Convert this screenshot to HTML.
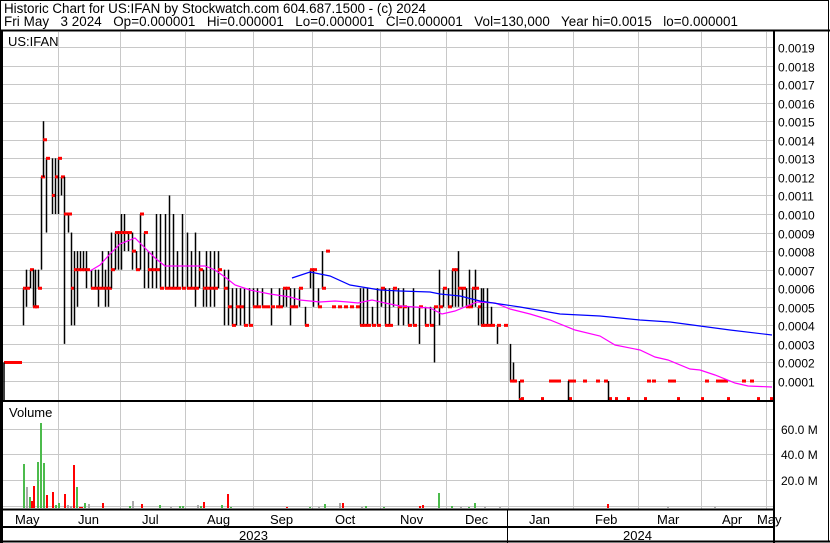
<!DOCTYPE html>
<html><head><meta charset="utf-8"><style>
body{margin:0;background:#fff;width:830px;height:543px;overflow:hidden}
svg{display:block;font-family:"Liberation Sans",Arial,sans-serif}
.pre{white-space:pre}
</style></head><body>
<svg id="s" width="830" height="543" xmlns="http://www.w3.org/2000/svg">
<rect x="0" y="0" width="830" height="543" fill="#fff"/>
<text x="4" y="13" font-size="13.4" textLength="422" lengthAdjust="spacing">Historic Chart for US:IFAN by Stockwatch.com 604.687.1500 - (c) 2024</text>
<text x="4" y="26" font-size="13.4" class="pre" textLength="734" lengthAdjust="spacing">Fri May   3 2024   Op=0.000001   Hi=0.000001   Lo=0.000001   Cl=0.000001   Vol=130,000   Year hi=0.0015   lo=0.000001</text>
<g id="grid" stroke="#c8c8c8" stroke-width="1"></g>
<g id="bars"></g>
<g id="labels" font-size="12"></g>
<text x="8" y="46" font-size="13">US:IFAN</text>
<text x="9" y="417" font-size="13">Volume</text>
<g stroke="#000" fill="none">
<rect x="0.5" y="0.5" width="828" height="541" stroke-width="1"/>
<line x1="0" y1="30.5" x2="830" y2="30.5" stroke-width="2"/>
<line x1="1.5" y1="30" x2="1.5" y2="543" stroke-width="3"/>
<line x1="774" y1="30" x2="774" y2="543" stroke-width="2"/>
<line x1="0" y1="401" x2="774" y2="401" stroke-width="2"/>
<line x1="0" y1="509.5" x2="774" y2="509.5" stroke-width="2"/>
<line x1="0" y1="527" x2="774" y2="527" stroke-width="2"/>
<line x1="507.5" y1="510" x2="507.5" y2="543" stroke-width="1"/>
<line x1="0" y1="541.5" x2="830" y2="541.5" stroke-width="2"/>
</g>
<g font-size="13">
<text x="15" y="524">May</text><text x="78" y="524">Jun</text><text x="142" y="524">Jul</text>
<text x="207" y="524">Aug</text><text x="270" y="524">Sep</text><text x="335" y="524">Oct</text>
<text x="400" y="524">Nov</text><text x="465" y="524">Dec</text><text x="529" y="524">Jan</text>
<text x="595" y="524">Feb</text><text x="657" y="524">Mar</text><text x="722" y="524">Apr</text>
<text x="757" y="524">May</text>
<text x="239" y="540">2023</text><text x="623" y="540">2024</text>
</g>
</svg>
<script>
const NS="http://www.w3.org/2000/svg";
function el(p,t,a){const e=document.createElementNS(NS,t);for(const k in a)e.setAttribute(k,a[k]);p.appendChild(e);return e;}
const g=document.getElementById('grid'),b=document.getElementById('bars'),L=document.getElementById('labels');
const Y=v=>399.6-18.56*v;
const vx=[58,120,185,253,312,380,446,508,573,638,701,766];
vx.forEach(x=>{el(g,'line',{x1:x+.5,y1:32,x2:x+.5,y2:400});el(g,'line',{x1:x+.5,y1:402,x2:x+.5,y2:509});});
for(let v=1;v<=19;v++){const y=Math.round(Y(v))+.5;el(g,'line',{x1:3,y1:y,x2:773,y2:y});
el(L,'text',{x:778,y:y+5}).textContent=(v/10000).toFixed(4);}
[[0,506],[20,480],[40,454],[60,429]].forEach(([v,y])=>{el(g,'line',{x1:3,y1:y+.5,x2:773,y2:y+.5});
if(v)el(L,'text',{x:781,y:y+5}).textContent=v.toFixed(1)+" M";});
const B=[[23,6,4,6],[26,7,5,6],[30,7,6,7],[33,7,5,5],[35,7,5,5],[38,7,6,6],[41,12,7,12],[43,15,12,14],[46,13,9,13],[52,13,10,11],[55,13,10,12],[58,13,10,13],[61,12,11,12],[64,12,3,10],[68,10,9,10],[71,9,4,6],[74,8,4,7],[77,8,5,7],[80,8,7,7],[83,8,7,7],[86,8,6,7],[91,7,6,6],[95,7,6,6],[98,7,5,6],[102,8,6,6],[105,7,5,6],[108,8,5,6],[111,9,6,7],[115,9,7,9],[118,9,7,9],[121,10,7,9],[124,10,8,9],[128,9,8,9],[132,9,7,8],[136,8,7,7],[140,10,7,10],[144,9,6,9],[148,8,6,7],[152,8,6,7],[156,10,6,7],[160,10,6,6],[165,10,6,6],[169,11,6,6],[173,10,6,6],[177,8,6,6],[182,10,6,6],[187,9,6,6],[191,8,6,6],[195,9,5,6],[199,8,6,7],[203,7,5,6],[206,8,5,6],[210,8,5,6],[214,8,5,6],[218,8,6,7],[224,7,4,6],[228,7,4,5],[232,6,4,4],[236,6,4,5],[240,6,4,5],[244,6,4,4],[249,6,4,4],[253,6,5,5],[257,6,5,5],[262,6,5,5],[266,5,5,5],[271,6,4,5],[276,5,5,5],[279,6,5,5],[283,6,5,6],[286,6,5,6],[290,6,4,5],[294,6,5,5],[299,6,5,6],[305,5,4,4],[310,7,6,7],[313,7,5,7],[318,6,5,5],[322,8,6,6],[326,8,8,8],[332,5,5,5],[338,5,5,5],[344,5,5,5],[350,5,5,5],[356,5,5,5],[360,6,4,4],[363,6,4,4],[367,6,4,4],[372,5,4,4],[377,6,4,4],[381,6,5,6],[385,6,4,4],[389,6,4,4],[393,6,5,6],[398,6,4,5],[403,6,4,5],[408,5,4,4],[413,6,4,4],[419,5,3,5],[425,5,4,4],[430,5,4,4],[434,5,2,5],[439,7,4,5],[443,6,5,6],[448,6,5,5],[452,7,5,7],[455,7,5,7],[458,8,5,6],[462,6,5,6],[466,6,5,5],[469,7,5,5],[472,6,5,6],[475,7,5,6],[478,5,4,5],[481,6,4,4],[483,6,4,4],[487,6,4,4],[491,5,4,4],[497,4,3,4],[504,4,4,4],[510,3,1,1],[513,2,1,1],[519,1,0,0]];
function ln(x1,y1,x2,y2,c,w){el(b,'line',{x1,y1,x2,y2,stroke:c,'stroke-width':w||1});}
B.forEach(([x,h,l,c])=>{if(h>l)ln(x+.5,Y(h),x+.5,Y(l),'#000',1.5);el(b,'rect',{x:x,y:Y(c)-1.5,width:4,height:3,fill:'#f00'});});
el(b,'rect',{x:4,y:Y(2)-1.5,width:18,height:3,fill:'#f00'});
ln(4,Y(2),4,400,'#000',1.5);
[512,520,549,553,557,568,572,583,596,604,647,652,668,672,705,716,720,724,742,750].forEach(x=>el(b,'rect',{x:x,y:Y(1)-1.5,width:4,height:3,fill:'#f00'}));
[521,541,569,609,615,627,644,677,701,727,757,770].forEach(x=>el(b,'rect',{x:x,y:Y(0)-2.5,width:3,height:3,fill:'#f00'}));
ln(568.5,Y(1),568.5,400,'#000',1.5);ln(608.5,Y(1),608.5,400,'#000',1.5);
const pink=[[90,271],[100,265],[110,254],[120,244],[130,240],[135,238],[140,243],[150,253],[155,258],[165,266],[175,266],[205,266],[215,270],[225,277],[235,285],[250,290],[270,294],[290,297],[300,300],[320,302],[335,301],[348,302],[358,303],[372,300],[385,303],[400,306],[430,308],[442,314],[455,311],[477,302],[495,303],[510,309],[530,314],[550,320],[575,330],[600,336],[615,345],[640,350],[655,357],[668,360],[690,369],[700,370],[715,375],[735,383],[748,386],[772,387]];
const blue=[[292,278],[310,272],[330,276],[350,285],[380,290],[400,291],[430,292],[440,294],[460,296],[480,301],[520,307],[560,314],[600,316],[620,318],[640,320],[670,322],[700,326],[730,330],[772,335]];
el(b,'polyline',{points:pink.map(p=>p.join(',')).join(' '),fill:'none',stroke:'#f0f','stroke-width':1.2});
el(b,'polyline',{points:blue.map(p=>p.join(',')).join(' '),fill:'none',stroke:'#00f','stroke-width':1.2});
const G='#4cbb4c',R='#f00',Gr='#aaa';
const V=[[23,464,G],[26,487,Gr],[29,497,G],[31,501,R],[33,486,R],[37,462,G],[40,423,G],[43,463,G],[46,495,R],[52,492,R],[55,505,G],[58,503,G],[64,494,R],[67,505,Gr],[70,506,Gr],[73,465,R],[76,487,G],[79,507,R],[81,507,R],[84,503,G],[88,504,Gr],[102,503,R],[129,506,G],[132,501,Gr],[141,504,R],[159,505,G],[170,507,Gr],[179,506,G],[182,506,G],[197,505,Gr],[200,506,G],[203,502,R],[221,505,G],[227,494,R],[230,507,G],[286,507,R],[309,507,G],[318,507,Gr],[324,504,G],[339,503,Gr],[342,503,R],[361,507,Gr],[365,506,G],[383,507,G],[419,506,R],[422,505,R],[438,493,G],[451,506,G],[460,507,Gr],[468,507,G],[474,503,G],[484,507,Gr],[499,507,Gr],[607,504,R],[667,507,Gr],[714,507,Gr]];
V.forEach(([x,t,c])=>el(b,'rect',{x:x,y:t,width:2,height:508-t,fill:c}));
</script>
</body></html>
